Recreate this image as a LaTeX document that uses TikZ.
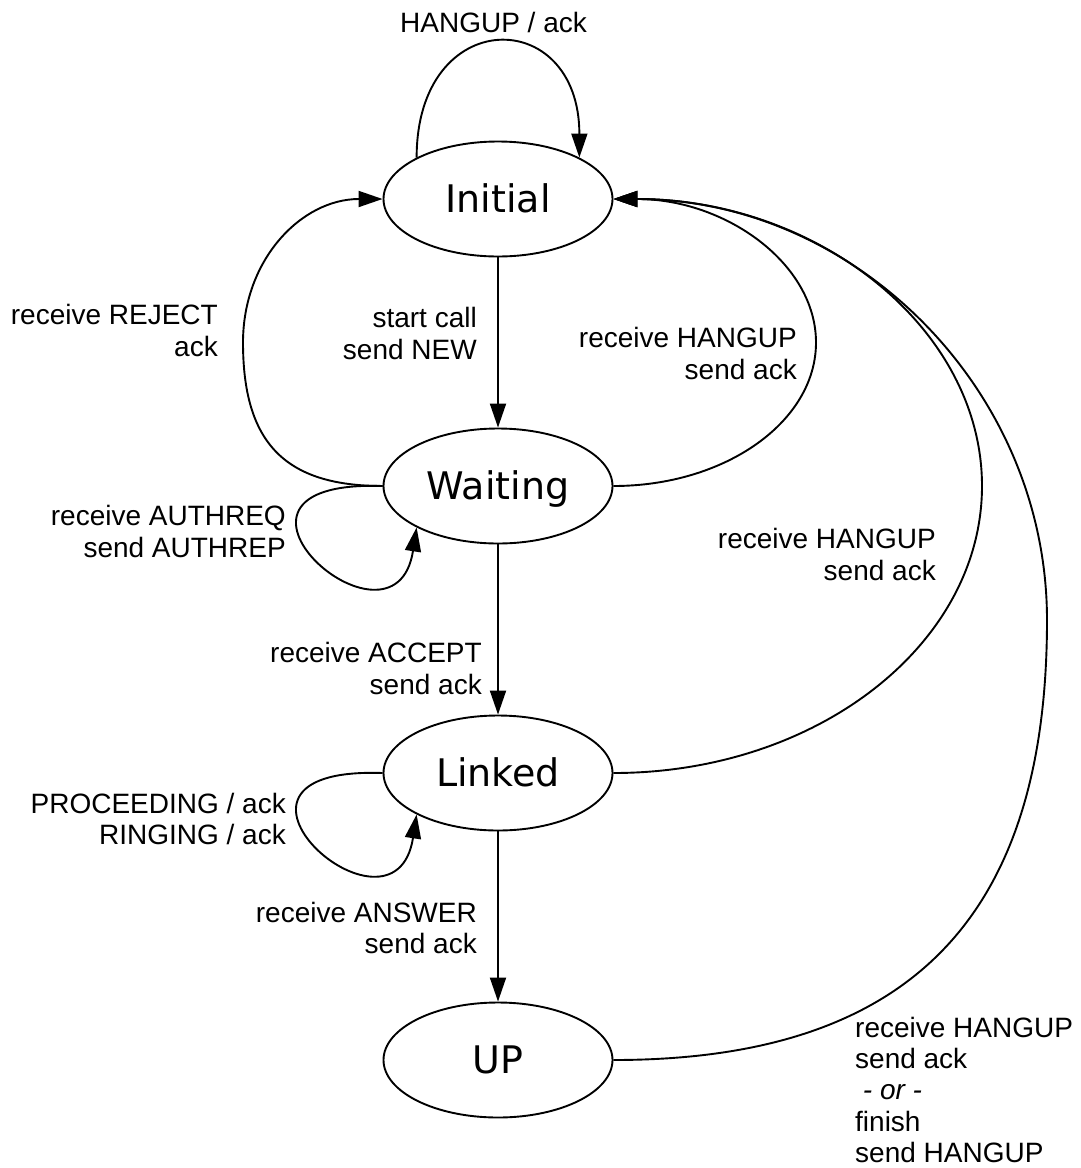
\documentclass[tikz,border=0pt]{standalone}
\usepackage{fontspec}
\setmainfont{Liberation Sans}
\newfontfamily\statefont{DejaVu Sans}
\usetikzlibrary{shapes.geometric,arrows.meta}
\begin{document}
\begin{tikzpicture}[x=1pt,y=-1pt,
  state/.style={ellipse,draw,line width=1.9pt,minimum width=229pt,minimum height=115pt,
    inner sep=0pt,text height=27.7pt,text depth=0pt,font=\statefont\fontsize{38}{44}\selectfont},
  lbl/.style={inner sep=0pt,font=\fontsize{28}{31.7}\selectfont},
  rlbl/.style={lbl,align=right,anchor=east},
  edge/.style={line width=1.9pt},
  arr/.style={edge,-{Triangle[length=24pt,width=16pt]}}]
\useasboundingbox (0,0) rectangle (1081,1168);

% states
\node[state] (I) at (498,199) {Initial};
\node[state] (W) at (498,486) {Waiting};
\node[state] (L) at (498,773) {Linked};
\node[state] (U) at (498,1060) {UP};

% straight transitions
\draw[arr] (I) -- (W);
\draw[arr] (W) -- (L);
\draw[arr] (L) -- (U);

% self loops
\draw[arr] (I.153) .. controls +(0,-153) and +(0,-153) .. (I.27);
\draw[arr] (W.west) .. controls +(-203,-7) and +(-22,142) .. (W.207);
\draw[arr] (L.west) .. controls +(-203,-7) and +(-22,142) .. (L.207);

% Waiting -> Initial (left, reject)
\draw[arr] (W.west) .. controls +(-98,0) and +(0,100) .. (243,342.5)
  .. controls +(0,-83) and +(-81,0) .. (I.west);

% back to Initial on the right
\draw[arr] (W.east) .. controls +(112,0) and +(0,79) .. (816,342.5)
  .. controls +(0,-79) and +(112,0) .. (I.east);
\draw[arr] (L.east) .. controls +(204,0) and +(0,158) .. (982,486)
  .. controls +(0,-158) and +(204,0) .. (I.east);
\draw[arr] (U.east) .. controls +(295,0) and +(0,299) .. (1047,620)
  .. controls +(0,-232) and +(240,0) .. (I.east);

% labels
\node[lbl,anchor=base] (lt) at (493.5,32) {HANGUP / ack};
\node[rlbl] (lrej) at (218,334.5) {\strut receive REJECT\\\strut ack};
\node[rlbl] (lstart) at (477,337.5) {\strut start call\\\strut send NEW};
\node[rlbl] (lwh) at (797,357.5) {\strut receive HANGUP\\\strut send ack};
\node[rlbl] (lauth) at (286,535.5) {\strut receive AUTHREQ\\\strut send AUTHREP};
\node[rlbl] (llh) at (936,558.5) {\strut receive HANGUP\\\strut send ack};
\node[rlbl] (lacc) at (482,672.5) {\strut receive ACCEPT\\\strut send ack};
\node[rlbl] (lproc) at (286,822.5) {\strut PROCEEDING / ack\\\strut RINGING / ack};
\node[rlbl] (lans) at (477,931.5) {\strut receive ANSWER\\\strut send ack};
\node[lbl,font=\fontsize{28}{31.1}\selectfont,align=left,anchor=north west] (lup) at (855,1015.8)
  {\strut receive HANGUP\\\strut send ack\\\strut\ \textit{- or -}\\\strut finish\\send HANGUP};
\end{tikzpicture}
\end{document}
